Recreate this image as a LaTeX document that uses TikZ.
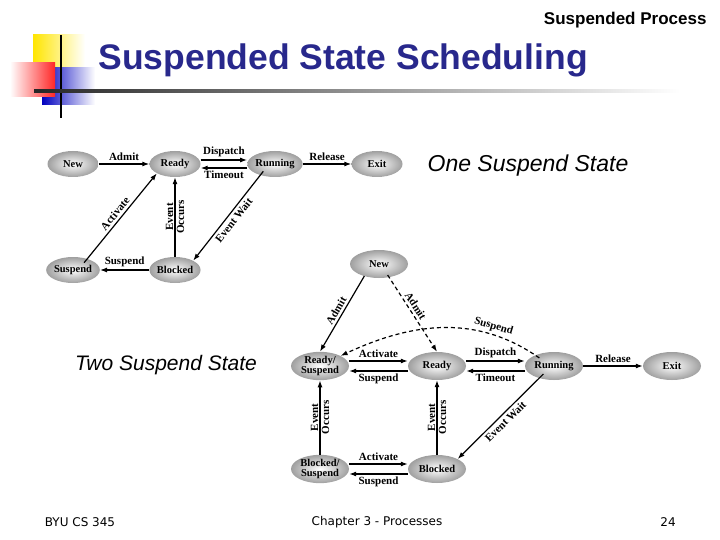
\documentclass[tikz,border=0pt]{standalone}
\usepackage{fontspec}
\setmainfont{Liberation Serif}
\newfontfamily\arial{Liberation Sans}
\newfontfamily\tah{DejaVu Sans}
\usetikzlibrary{arrows.meta,shapes.geometric}
\definecolor{titleblue}{RGB}{40,40,140}
\tikzset{
 st/.style={ellipse,draw=none,inner color=white,outer color=gray!75,minimum width=51pt,minimum height=26pt,inner sep=0pt,font=\fontsize{10.5}{10.5}\selectfont\bfseries,align=center},
 stb/.style={st,minimum width=58pt,minimum height=28pt},
 tr/.style={-{Latex[length=7pt,width=5pt]},line width=1.2pt},
 trd/.style={tr,dashed,dash pattern=on 4pt off 3pt},
 lb/.style={font=\fontsize{11}{11}\selectfont\bfseries,inner sep=2.5pt},
}
\begin{document}
\begin{tikzpicture}[x=1pt,y=-1pt]
\useasboundingbox (0,0) rectangle (720,540);
% logo
\shade[left color=yellow!80!orange,right color=white] (33,35) rectangle (85,68);
\shade[left color=blue!75!black,right color=white] (42,68) rectangle (95,105);
\shade[left color=white,right color=red!85] (10,63) rectangle (55,97);
\draw[line width=1.5pt] (61,35) -- (61,118);
\shade[left color=black!85,right color=white] (34,89.5) rectangle (680,92.5);
\node[anchor=east,font=\arial\bfseries\fontsize{17}{18}\selectfont] (hdr) at (710,20) {Suspended Process};
\node[anchor=west,font=\arial\bfseries\fontsize{35.5}{37}\selectfont,text=titleblue] (ttl) at (95,60) {Suspended State Scheduling};
% diagram 1
\node[st] (n1) at (73,164) {New};
\node[st] (r1) at (175,164) {Ready};
\node[st] (u1) at (275,164) {Running};
\node[st] (e1) at (377,164) {Exit};
\node[st] (s1) at (73,270) {Suspend};
\node[st] (b1) at (175,270) {Blocked};
\draw[tr] (n1) -- node[lb,above]{Admit} (r1);
\draw[tr] ([yshift=4]r1.east) -- node[lb,above]{Dispatch} ([yshift=4]u1.west);
\draw[tr] ([yshift=-4]u1.west) -- node[lb,below]{Timeout} ([yshift=-4]r1.east);
\draw[tr] (u1) -- node[lb,above]{Release} (e1);
\draw[tr] (b1) -- node[lb,above]{Suspend} (s1);
\draw[tr] (s1.north east) ++(-8,2) coordinate(sa) (sa) -- node[lb,sloped,above]{Activate} (r1.south west);
\draw[tr] (b1) -- node[lb,rotate=90,align=center]{Event\\Occurs} (r1);
\draw[tr] (u1.south west) ++(8,-2) coordinate (ua) (ua) -- node[lb,sloped,below]{Event Wait} (b1.north east);
\node[font=\arial\itshape\fontsize{23}{24}\selectfont] (t1) at (528,166) {One Suspend State};
% diagram 2
\node[stb] (n2) at (379,264) {New};
\node[stb] (rs) at (320,366) {Ready/\\Suspend};
\node[stb] (r2) at (437,366) {Ready};
\node[stb] (u2) at (554,366) {Running};
\node[stb] (e2) at (672,366) {Exit};
\node[stb] (bs) at (320,469) {Blocked/\\Suspend};
\node[stb] (b2) at (437,469) {Blocked};
\draw[tr] (n2.south west) ++(6,2) coordinate(na) (na) -- node[lb,sloped,above]{Admit} (rs.north);
\draw[trd] (n2.south east) ++(-12,1) coordinate(nb) (nb) -- node[lb,sloped,above,pos=0.45]{Admit} (r2.north);
\draw[trd] (u2.north west) ++(6,2) coordinate(ub) (ub) to[out=145,in=25] node[lb,pos=0.25,above,sloped]{Suspend} (rs.north east);
\draw[tr] ([yshift=5]rs.east) -- node[lb,above]{Activate} ([yshift=5]r2.west);
\draw[tr] ([yshift=-5]r2.west) -- node[lb,below]{Suspend} ([yshift=-5]rs.east);
\draw[tr] ([yshift=5]r2.east) -- node[lb,above]{Dispatch} ([yshift=5]u2.west);
\draw[tr] ([yshift=-5]u2.west) -- node[lb,below]{Timeout} ([yshift=-5]r2.east);
\draw[tr] (u2) -- node[lb,above]{Release} (e2);
\draw[tr] (bs) -- node[lb,rotate=90,align=center]{Event\\Occurs} (rs);
\draw[tr] (b2) -- node[lb,rotate=90,align=center]{Event\\Occurs} (r2);
\draw[tr] (u2.south west) ++(10,-2) coordinate(uc) (uc) -- node[lb,sloped,below]{Event Wait} (b2.north east);
\draw[tr] ([yshift=5]bs.east) -- node[lb,above]{Activate} ([yshift=5]b2.west);
\draw[tr] ([yshift=-5]b2.west) -- node[lb,below]{Suspend} ([yshift=-5]bs.east);
\node[font=\arial\itshape\fontsize{21}{22}\selectfont] (t2) at (166,365) {Two Suspend State};
% footer
\node[font=\tah\fontsize{12}{13}\selectfont] (f1) at (80,522) {BYU CS 345};
\node[font=\tah\fontsize{12}{13}\selectfont] (f2) at (377,522) {Chapter 3 - Processes};
\node[font=\tah\fontsize{12}{13}\selectfont] (f3) at (668,522) {24};
\end{tikzpicture}
\end{document}
